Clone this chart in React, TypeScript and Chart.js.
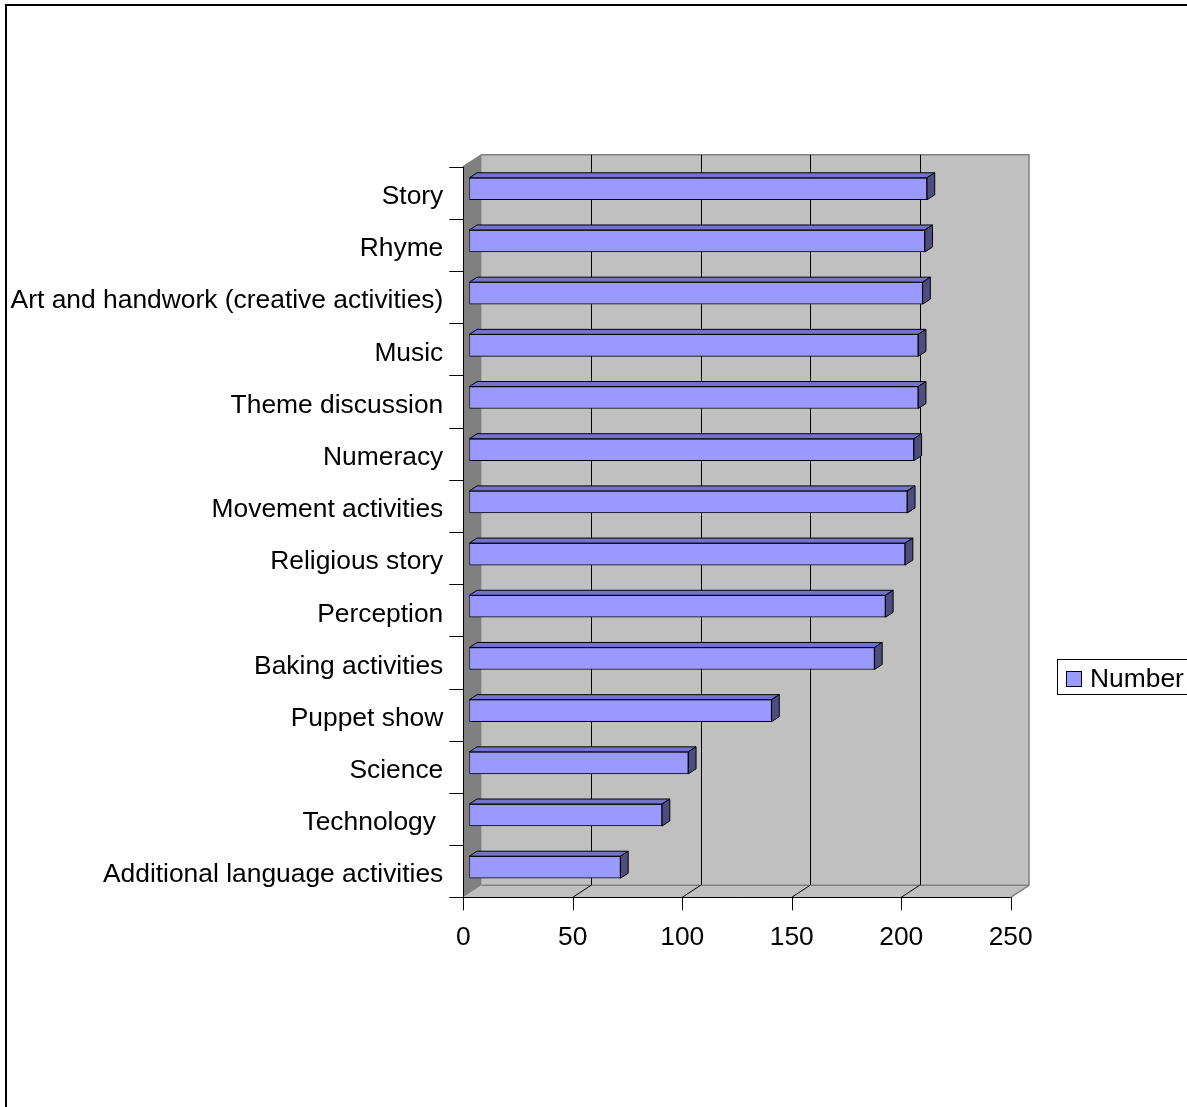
import React, { useEffect, useRef } from "react";
import { Chart, registerables } from "chart.js";

Chart.register(...registerables);

const categories = [
  "Story",
  "Rhyme",
  "Art and handwork (creative activities)",
  "Music",
  "Theme discussion",
  "Numeracy",
  "Movement activities",
  "Religious story",
  "Perception",
  "Baking activities",
  "Puppet show",
  "Science",
  "Technology ",
  "Additional language activities",
];
const values = [209, 208, 207, 205, 205, 203, 200, 199, 190, 185, 138, 100, 88, 69];
const xTicks = [0, 50, 100, 150, 200, 250];
const seriesName = "Number";

const FONT = "26.4px 'Liberation Sans', Arial, sans-serif";
const DX = 18.3;
const DY = -12;
const F = 1 / 3;
const BAR_DX = 7.7;
const BAR_DY = -5;

const wallsPlugin = {
  id: "walls3d",
  beforeDatasetsDraw(chart: any) {
    const ctx = chart.ctx;
    const ca = chart.chartArea;
    const xs = chart.scales.x;
    const fL = ca.left - DX * F, fR = ca.right - DX * F;
    const fT = ca.top - DY * F, fB = ca.bottom - DY * F;
    const bL = ca.left + DX * (1 - F), bR = ca.right + DX * (1 - F);
    const bT = ca.top + DY * (1 - F), bB = ca.bottom + DY * (1 - F);
    ctx.save();
    ctx.fillStyle = "#C0C0C0";
    ctx.fillRect(bL, bT, bR - bL, bB - bT);
    ctx.beginPath();
    ctx.moveTo(fL, fB); ctx.lineTo(fR, fB); ctx.lineTo(bR, bB); ctx.lineTo(bL, bB); ctx.closePath();
    ctx.fillStyle = "#C0C0C0";
    ctx.fill();
    ctx.beginPath();
    ctx.moveTo(fL, fT); ctx.lineTo(bL, bT); ctx.lineTo(bL, bB); ctx.lineTo(fL, fB); ctx.closePath();
    ctx.fillStyle = "#808080";
    ctx.fill();
    ctx.strokeStyle = "#808080";
    ctx.lineWidth = 1.5;
    ctx.beginPath();
    ctx.moveTo(fL, fT); ctx.lineTo(bL, bT); ctx.lineTo(bR, bT); ctx.lineTo(bR, bB); ctx.lineTo(fR, fB);
    ctx.moveTo(bL, bB); ctx.lineTo(bR, bB);
    ctx.stroke();
    ctx.strokeStyle = "#000";
    ctx.lineWidth = 1;
    xTicks.forEach((v) => {
      if (v === xTicks[0] || v === xTicks[xTicks.length - 1]) return;
      const px = xs.getPixelForValue(v);
      const bx = px + DX * (1 - F);
      const fx = px - DX * F;
      ctx.beginPath();
      ctx.moveTo(Math.round(bx) + 0.5, bT);
      ctx.lineTo(Math.round(bx) + 0.5, bB);
      ctx.moveTo(bx, bB);
      ctx.lineTo(fx, fB);
      ctx.stroke();
    });
    ctx.restore();
  },
  afterDatasetsDraw(chart: any) {
    const ctx = chart.ctx;
    const meta = chart.getDatasetMeta(0);
    ctx.save();
    ctx.strokeStyle = "#000";
    ctx.lineWidth = 1;
    meta.data.forEach((bar: any) => {
      const p = bar.getProps(["x", "y", "base", "height"], true);
      const t = p.y - p.height / 2;
      const b = p.y + p.height / 2;
      ctx.beginPath();
      ctx.moveTo(p.base, t); ctx.lineTo(p.x, t); ctx.lineTo(p.x + BAR_DX, t + BAR_DY); ctx.lineTo(p.base + BAR_DX, t + BAR_DY); ctx.closePath();
      ctx.fillStyle = "#7373CC";
      ctx.fill();
      ctx.stroke();
      ctx.beginPath();
      ctx.moveTo(p.x, t); ctx.lineTo(p.x + BAR_DX, t + BAR_DY); ctx.lineTo(p.x + BAR_DX, b + BAR_DY); ctx.lineTo(p.x, b); ctx.closePath();
      ctx.fillStyle = "#4D4D80";
      ctx.fill();
      ctx.stroke();
    });
    ctx.restore();
  },
  afterDraw(chart: any) {
    const ctx = chart.ctx;
    const ca = chart.chartArea;
    const xs = chart.scales.x;
    const ys = chart.scales.y;
    const fL = ca.left - DX * F, fR = ca.right - DX * F;
    const fT = ca.top - DY * F, fB = ca.bottom - DY * F;
    ctx.save();
    ctx.strokeStyle = "#000";
    ctx.lineWidth = 1;
    ctx.beginPath();
    ctx.moveTo(Math.round(fL) + 0.5, fT);
    ctx.lineTo(Math.round(fL) + 0.5, fB);
    ctx.moveTo(fL, Math.round(fB) + 0.5);
    ctx.lineTo(fR, Math.round(fB) + 0.5);
    ctx.stroke();
    const n = categories.length;
    const step = (fB - fT) / n;
    ctx.beginPath();
    for (let i = 0; i <= n; i++) {
      const y = Math.round(fT + i * step) + 0.5;
      ctx.moveTo(fL - 14, y);
      ctx.lineTo(fL, y);
    }
    xTicks.forEach((v) => {
      const x = Math.round(xs.getPixelForValue(v) - DX * F) + 0.5;
      ctx.moveTo(x, fB);
      ctx.lineTo(x, fB + 13);
    });
    ctx.stroke();
    ctx.fillStyle = "#000";
    ctx.font = FONT;
    ctx.textAlign = "right";
    ctx.textBaseline = "middle";
    categories.forEach((c, i) => {
      const y = ys.getPixelForValue(i) - DY * F;
      ctx.fillText(c, fL - 20, y + 4);
    });
    ctx.textAlign = "center";
    xTicks.forEach((v) => {
      const x = xs.getPixelForValue(v) - DX * F;
      ctx.fillText(String(v), x, fB + 40);
    });
    ctx.lineWidth = 1;
    ctx.strokeRect(1057.5, 659.5, 200, 35);
    ctx.fillStyle = "#9999FF";
    ctx.fillRect(1066.5, 671.5, 15, 15);
    ctx.strokeRect(1066.5, 671.5, 15, 15);
    ctx.fillStyle = "#000";
    ctx.textAlign = "left";
    ctx.fillText(seriesName, 1090, 680);
    ctx.lineWidth = 2;
    ctx.strokeRect(6, 5, 3000, 3000);
    ctx.restore();
  },
};

export default function App() {
  const ref = useRef<HTMLCanvasElement>(null);
  useEffect(() => {
    document.body.style.margin = "0";
    const canvas = ref.current!;
    const chart = new Chart(canvas, {
      type: "bar",
      data: {
        labels: categories,
        datasets: [
          {
            label: seriesName,
            data: values,
            backgroundColor: "#9999FF",
            borderColor: "#000",
            borderWidth: 1,
            borderSkipped: false,
            barThickness: 22,
          },
        ],
      },
      options: {
        indexAxis: "y",
        responsive: false,
        animation: false,
        devicePixelRatio: 1,
        layout: { padding: { left: 469.4, right: 1187 - 1016.8, top: 162.7, bottom: 1107 - 893.3 } },
        scales: {
          x: { min: 0, max: 250, display: false },
          y: { display: false },
        },
        plugins: { legend: { display: false }, tooltip: { enabled: false } },
      },
      plugins: [wallsPlugin],
    });
    return () => chart.destroy();
  }, []);
  return (
    <div style={{ width: 1187, height: 1107, background: "#fff" }}>
      <canvas ref={ref} width={1187} height={1107} style={{ display: "block" }} />
    </div>
  );
}
